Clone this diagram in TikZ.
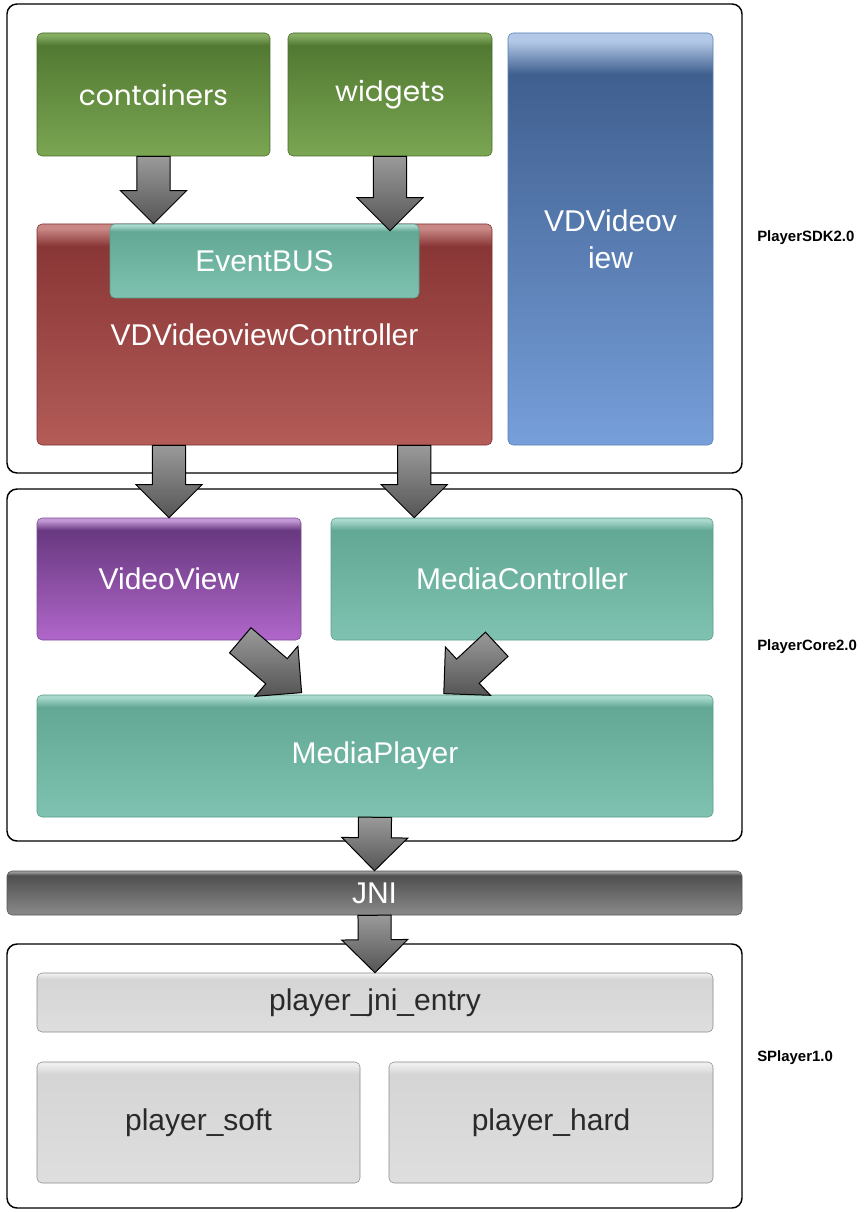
\documentclass[tikz,border=0pt]{standalone}
\usepackage{fontspec}
\setmainfont{Liberation Sans}
\newfontfamily\gothicfont{Poppins}
\usetikzlibrary{calc}
% colours
\definecolor{greenhl}{HTML}{86AE63}\definecolor{greentop}{HTML}{527932}\definecolor{greenbot}{HTML}{7AA652}\definecolor{greenline}{HTML}{4A6B2D}
\definecolor{redhl}{HTML}{C98886}\definecolor{redtop}{HTML}{893636}\definecolor{redbot}{HTML}{B35C58}\definecolor{redline}{HTML}{7A3030}
\definecolor{tealhl}{HTML}{A9D9CD}\definecolor{tealtop}{HTML}{62A894}\definecolor{tealbot}{HTML}{7FC2B1}\definecolor{tealline}{HTML}{5A9C8A}
\definecolor{bluehl}{HTML}{B3C8E6}\definecolor{bluetop}{HTML}{3F5F8F}\definecolor{bluebot}{HTML}{779FDA}\definecolor{blueline}{HTML}{5A7FB5}
\definecolor{purphl}{HTML}{C49AD6}\definecolor{purptop}{HTML}{683880}\definecolor{purpbot}{HTML}{B067CA}\definecolor{purpline}{HTML}{7A4A92}
\definecolor{jnihl}{HTML}{9A9A9A}\definecolor{jnitop}{HTML}{4F4F4F}\definecolor{jnibot}{HTML}{8A8A8A}\definecolor{jniline}{HTML}{555555}
\definecolor{grayhl}{HTML}{EEEEEE}\definecolor{graytop}{HTML}{D5D5D5}\definecolor{graybot}{HTML}{DEDEDE}\definecolor{grayline}{HTML}{8C8C8C}
\definecolor{arrdark}{HTML}{555555}\definecolor{arrlight}{HTML}{9A9A9A}
\definecolor{darktext}{HTML}{2A2A2A}
\newcommand\boxshade[4]{\pgfdeclareverticalshading{#1}{100bp}{color(0bp)=(#2); color(25bp)=(#2); color(70bp)=(#3); color(74bp)=(#4); color(100bp)=(#4)}}
\boxshade{greenshade}{greenbot}{greentop}{greenhl}
\boxshade{redshade}{redbot}{redtop}{redhl}
\boxshade{tealshade}{tealbot}{tealtop}{tealhl}
\boxshade{blueshade}{bluebot}{bluetop}{bluehl}
\boxshade{purpshade}{purpbot}{purptop}{purphl}
\boxshade{jnishade}{jnibot}{jnitop}{jnihl}
\boxshade{grayshade}{graybot}{graytop}{grayhl}
\tikzset{
  boxsize/.style 2 args={minimum width=#1*0.75pt, minimum height=#2*0.75pt},
  frame/.style={draw=black, line width=1.1pt, fill=white, rounded corners=7.5pt},
  box/.style={rounded corners=3.75pt, text=white, inner sep=0pt, align=center, font=\fontsize{22.5}{28}\selectfont},
  greenbox/.style={box, draw=greenline, shading=greenshade, font=\gothicfont\fontsize{21}{26}\selectfont},
  redbox/.style={box, draw=redline, shading=redshade},
  tealbox/.style={box, draw=tealline, shading=tealshade},
  bluebox/.style={box, draw=blueline, shading=blueshade},
  purpbox/.style={box, draw=purpline, shading=purpshade},
  jnibox/.style={box, draw=jniline, shading=jnishade},
  graybox/.style={box, draw=grayline, shading=grayshade, text=darktext},
  layerlabel/.style={anchor=west, inner sep=0pt, font=\bfseries\fontsize{11.2}{14}\selectfont},
  fatarrow/.style={draw=black, line width=0.75pt, line join=miter, top color=arrlight, bottom color=arrdark},
}
% block arrow from #1 to #2
\newcommand\blockarrow[2]{%
  \path let \p1=(#1), \p2=(#2) in \pgfextra{%
    \pgfmathsetmacro\arrang{atan2(\y2-\y1,\x2-\x1)}%
    \pgfmathsetmacro\arrlen{veclen(\x2-\x1,\y2-\y1)}%
    \xdef\arrang{\arrang}\xdef\arrlen{\arrlen}%
    \xdef\arrx{\x1}\xdef\arry{\y1}};
  \draw[fatarrow, shift={(\arrx,\arry)}, rotate=\arrang]
    (0pt,-12.4pt) -- ({\arrlen pt-24.75pt},-12.4pt) -- ({\arrlen pt-24.75pt},-24.75pt)
    -- (\arrlen pt,0pt) -- ({\arrlen pt-24.75pt},24.75pt) -- ({\arrlen pt-24.75pt},12.4pt)
    -- (0pt,12.4pt) -- cycle;
}
\begin{document}
\begin{tikzpicture}[x=0.75pt,y=-0.75pt]
\useasboundingbox (0,0) rectangle (866,1212);
%frames
\node[frame, boxsize={735}{469}] (sdk) at (374.5,238.5) {};
\node[frame, boxsize={735}{352}] (core) at (374.5,665) {};
\node[frame, boxsize={735}{264}] (splayer) at (374.5,1076) {};
\node[layerlabel] (sdklabel) at (757,238) {PlayerSDK2.0};
\node[layerlabel] (corelabel) at (757,647) {PlayerCore2.0};
\node[layerlabel] (splayerlabel) at (757,1058) {SPlayer1.0};
%PlayerSDK2.0
\node[greenbox, boxsize={233}{123}] (containers) at (153.5,94.5) {containers};
\node[greenbox, boxsize={204}{123}] (widgets) at (390,94.5) {widgets};
\node[bluebox, boxsize={205}{412}] (vdview) at (610.5,239) {VDVideov\\iew};
\node[redbox, boxsize={455}{221}] (ctrl) at (264.5,334.5) {VDVideoviewController};
\node[tealbox, boxsize={309}{74}] (eventbus) at (264.5,261) {EventBUS};
%PlayerCore2.0
\node[purpbox, boxsize={264}{122}] (videoview) at (169,579) {VideoView};
\node[tealbox, boxsize={382}{122}] (mediactrl) at (522,579) {MediaController};
\node[tealbox, boxsize={676}{122}] (mediaplayer) at (375,756) {MediaPlayer};
%JNI
\node[jnibox, boxsize={735}{44}] (jni) at (374.5,893) {JNI};
%SPlayer1.0
\node[graybox, boxsize={676}{59}] (entry) at (375,1002.5) {player\_jni\_entry};
\node[graybox, boxsize={323}{121}] (soft) at (198.5,1122.5) {player\_soft};
\node[graybox, boxsize={324}{121}] (hard) at (551,1122.5) {player\_hard};
%arrows
\coordinate (ctrlright) at ($(ctrl.south east)+(-78,0)$);
\coordinate (vvout) at ($(videoview.south east)+(-61,0)$);
\coordinate (mpleft) at ($(mediaplayer.north west)+(265,-2)$);
\coordinate (mcout) at ($(mediactrl.south west)+(166,4)$);
\coordinate (mpright) at ($(mediaplayer.north west)+(407,-1)$);
\blockarrow{containers.south}{containers.south |- eventbus.north}
\blockarrow{widgets.south}{$(widgets.south |- eventbus.north)+(0,7)$}
\blockarrow{ctrl.south -| videoview.north}{videoview.north}
\blockarrow{ctrlright}{ctrlright |- mediactrl.north}
\blockarrow{vvout}{mpleft}
\blockarrow{mcout}{mpright}
\blockarrow{mediaplayer.south}{jni.north}
\blockarrow{jni.south}{entry.north}
\end{tikzpicture}
\end{document}
